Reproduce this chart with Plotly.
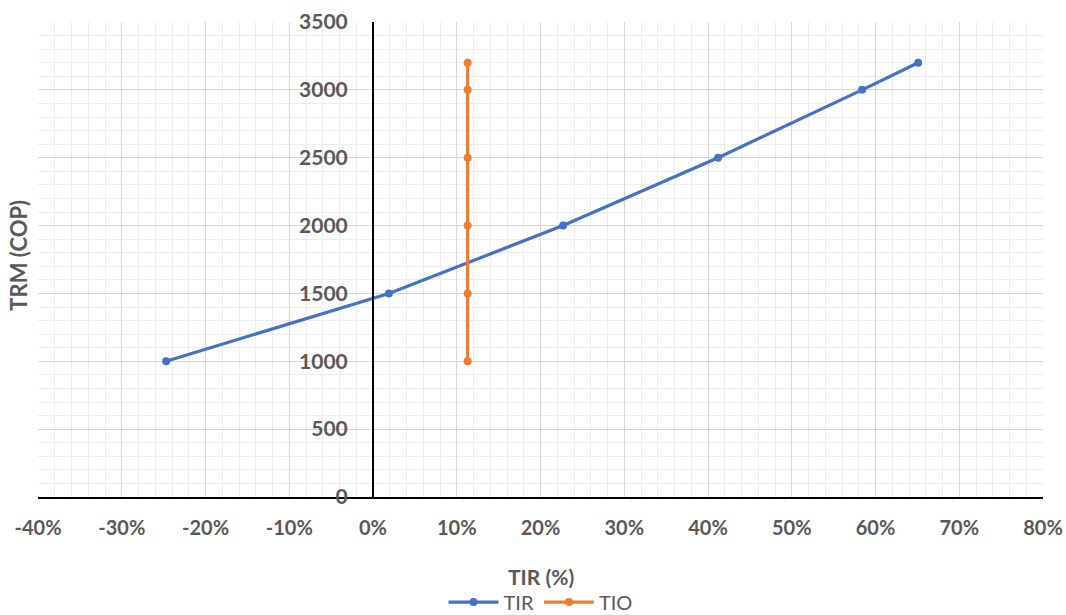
import plotly.graph_objects as go

# TIR vs TRM sensitivity and constant TIO
trm_tir = [1000, 1500, 2000, 2500, 3000, 3200]
tir_pct = [-24.7, 1.9, 22.7, 41.2, 58.4, 65.1]

trm_tio = [1000, 1500, 2000, 2500, 3000, 3200]
tio_pct = [11.3, 11.3, 11.3, 11.3, 11.3, 11.3]

x_ticks = [-40, -30, -20, -10, 0, 10, 20, 30, 40, 50, 60, 70, 80]
y_ticks = [0, 500, 1000, 1500, 2000, 2500, 3000, 3500]

BLUE = "#4472C4"
ORANGE = "#ED7D31"
TXT = "#595959"
FONT = "Lato"

fig = go.Figure()
fig.add_trace(go.Scatter(
    x=tir_pct, y=trm_tir, name="TIR", mode="lines+markers",
    line=dict(color=BLUE, width=3.2), marker=dict(color=BLUE, size=8),
))
fig.add_trace(go.Scatter(
    x=tio_pct, y=trm_tio, name="TIO", mode="lines+markers",
    line=dict(color=ORANGE, width=3.2), marker=dict(color=ORANGE, size=8),
))

fig.update_layout(
    width=1066, height=615,
    margin=dict(l=38, r=23, t=22, b=118, autoexpand=False),
    paper_bgcolor="white", plot_bgcolor="white",
    font=dict(family=FONT, color=TXT),
    showlegend=True,
    legend=dict(
        orientation="h", x=0.5, xanchor="center",
        yref="container", y=0.021, yanchor="middle",
        font=dict(size=20, color=TXT), itemwidth=50, tracegroupgap=0,
    ),
    xaxis=dict(
        range=[-40, 80], tickvals=x_ticks, ticktext=[f"{v}%" for v in x_ticks],
        showgrid=True, gridcolor="#D6D6D6", gridwidth=1,
        minor=dict(dtick=2, showgrid=True, gridcolor="#EDEDED", gridwidth=1),
        zeroline=False, showline=True, linecolor="black", linewidth=2,
        ticks="", ticklabelstandoff=12, automargin=False,
        tickfont=dict(family=FONT, size=20, color=TXT, weight="bold"),
        fixedrange=True,
    ),
    yaxis=dict(
        range=[0, 3500], tickvals=y_ticks,
        showgrid=True, gridcolor="#D6D6D6", gridwidth=1,
        minor=dict(dtick=100, showgrid=True, gridcolor="#EDEDED", gridwidth=1),
        zeroline=False, showline=True, linecolor="black", linewidth=2,
        anchor="free", position=1 / 3, automargin=False,
        ticks="", ticklabelstandoff=20,
        tickfont=dict(family=FONT, size=21, color=TXT, weight="bold"),
        fixedrange=True,
    ),
    annotations=[
        dict(text="<b>TIR (%)</b>", xref="paper", yref="paper",
             x=0.5, y=-0.168, xanchor="center", yanchor="middle",
             showarrow=False, font=dict(family=FONT, size=21, color=TXT)),
        dict(text="<b>TRM (COP)</b>", xref="paper", yref="paper",
             x=-0.019, y=0.51, xanchor="center", yanchor="middle", textangle=-90,
             showarrow=False, font=dict(family=FONT, size=22, color=TXT)),
    ],
)

fig.write_html("out.html")
